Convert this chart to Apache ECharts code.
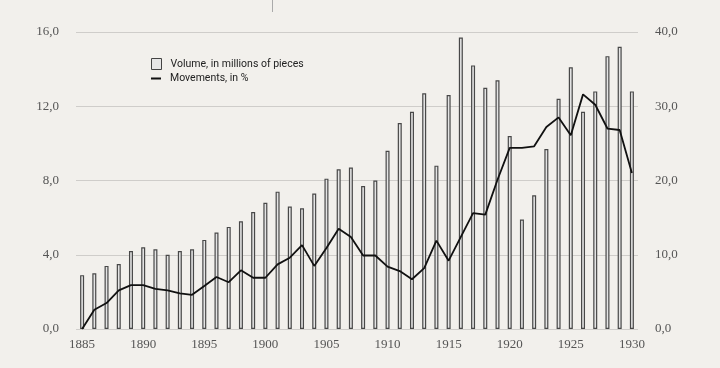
<!DOCTYPE html>
<html><head><meta charset="utf-8">
<script src="https://cdn.jsdelivr.net/npm/echarts@6/dist/echarts.min.js"></script>
<style>html,body{margin:0;padding:0;background:#f2f0ec}#c{width:720px;height:368px}</style>
</head><body><div id="c"></div>
<script>
const years = [];
for (let y = 1885; y <= 1930; y++) years.push(String(y));
const volume = [2.9,3.0,3.4,3.5,4.2,4.4,4.3,4.0,4.2,4.3,4.8,5.2,5.5,5.8,6.3,6.8,7.4,6.6,6.5,7.3,8.1,8.6,8.7,7.7,8.0,9.6,11.1,11.7,12.7,8.8,12.6,15.7,14.2,13.0,13.4,10.4,5.9,7.2,9.7,12.4,14.1,11.7,12.8,14.7,15.2,12.8];
const movements = [0,2.6,3.5,5.2,5.9,5.9,5.4,5.2,4.8,4.6,5.8,7.0,6.3,7.9,6.9,6.9,8.7,9.6,11.3,8.5,10.9,13.5,12.4,9.9,9.9,8.4,7.8,6.7,8.2,11.9,9.2,12.4,15.6,15.4,20.1,24.4,24.4,24.6,27.2,28.5,26.1,31.6,30.2,27.0,26.8,21.0];
const seriesNames = ['Volume, in millions of pieces','Movements, in %'];

const chart = echarts.init(document.getElementById('c'));
const lbl = {fontFamily:'Liberation Serif', fontSize:13, color:'#555'};
const legText = {fontFamily:'Roboto', fontSize:10.5, color:'#222', padding:[0,0,0,4]};
chart.setOption({
  backgroundColor:'#f2f0ec',
  animation:false,
  grid:{left:76,right:82,top:32,bottom:39},
  legend:[
    {orient:'vertical', left:146, top:53, itemWidth:10, itemHeight:11, selectedMode:false,
     textStyle:legText,
     data:[{name:seriesNames[0], icon:'rect', itemStyle:{color:'#e6e6e6', borderColor:'#444', borderWidth:1}}]},
    {orient:'vertical', left:146, top:68, itemWidth:10, itemHeight:2, selectedMode:false,
     textStyle:legText,
     data:[{name:seriesNames[1], icon:'rect', itemStyle:{color:'#111', borderWidth:0}}]}
  ],
  xAxis:{
    type:'category', data:years, boundaryGap:true,
    axisLine:{show:false}, axisTick:{show:false},
    axisLabel:Object.assign({interval:0, margin:9, formatter:v=> (Number(v)%5===0? v : '')}, lbl)
  },
  yAxis:[
    {type:'value', min:0, max:16, interval:4, position:'left',
     axisLine:{show:false}, axisTick:{show:false},
     axisLabel:Object.assign({margin:17, formatter:v=>v.toFixed(1).replace('.',',')}, lbl),
     splitLine:{lineStyle:{color:'#cfcdca', width:1}}},
    {type:'value', min:0, max:40, interval:10, position:'right',
     axisLine:{show:false}, axisTick:{show:false},
     axisLabel:Object.assign({margin:17, formatter:v=>v.toFixed(1).replace('.',',')}, lbl),
     splitLine:{show:false}}
  ],
  series:[
    {name:seriesNames[0], type:'bar', yAxisIndex:0, data:volume, barWidth:4,
     itemStyle:{color:'#e4e4e4', borderColor:'#484848', borderWidth:1.2}},
    {name:seriesNames[1], type:'line', yAxisIndex:1, data:movements, symbol:'none',
     lineStyle:{color:'#111', width:1.8}, itemStyle:{color:'#111'}}
  ],
  graphic:[
    {type:'line', shape:{x1:272.5,y1:0,x2:272.5,y2:12}, style:{stroke:'#aaa', lineWidth:1}}
  ]
});
</script></body></html>
